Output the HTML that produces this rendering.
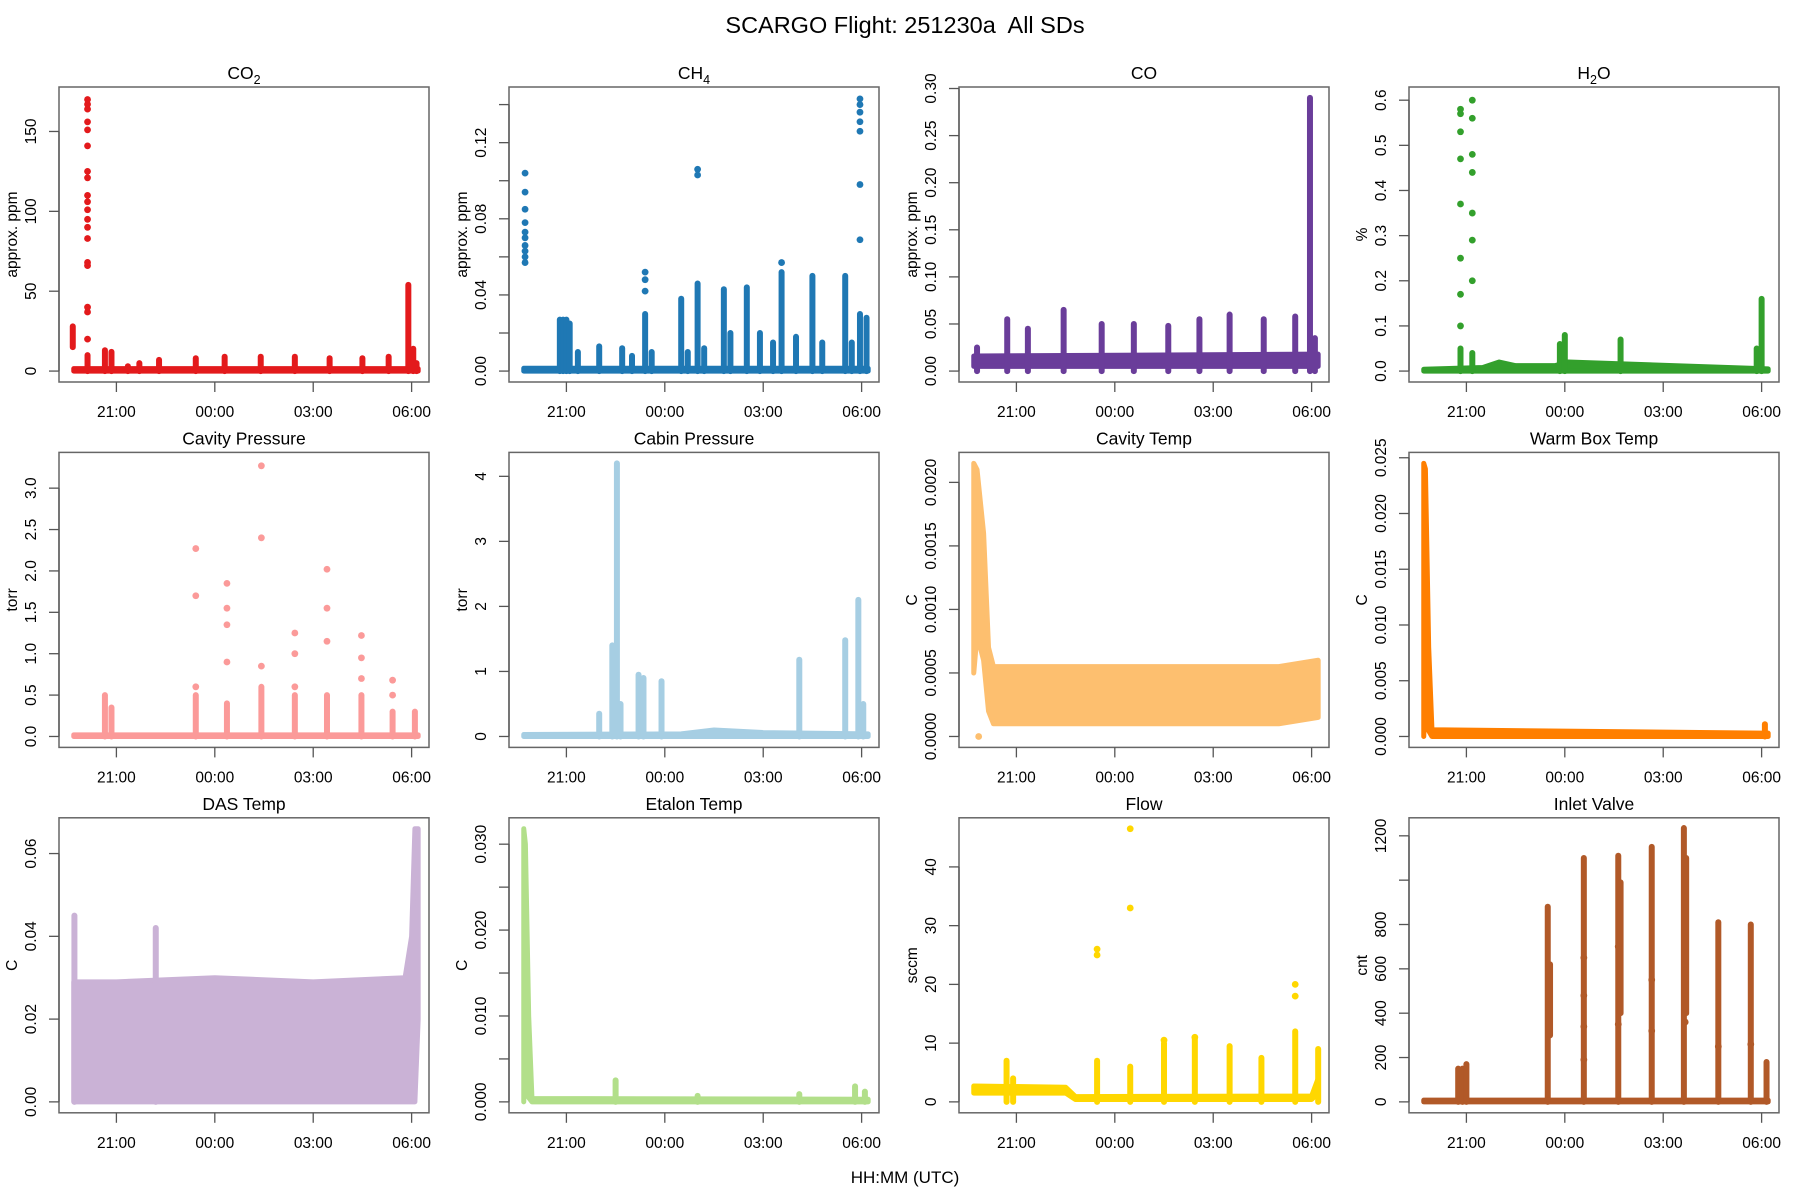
<!DOCTYPE html>
<html><head><meta charset="utf-8"><title>SCARGO Flight 251230a All SDs</title>
<style>
html,body{margin:0;padding:0;background:#fff;}
svg{display:block;font-family:"Liberation Sans",Arial,sans-serif;}
</style></head>
<body>
<svg id="fig" width="1800" height="1200" viewBox="0 0 1800 1200" xmlns="http://www.w3.org/2000/svg">
<rect width="1800" height="1200" fill="#fff"/>
<text x="905" y="33" font-size="23.5" text-anchor="middle" style="white-space:pre">SCARGO Flight: 251230a  All SDs</text>
<text x="905" y="1183" font-size="17" text-anchor="middle">HH:MM (UTC)</text>
</svg>
<script>
// shared x axis (hours relative to 21:00)
const xTickT = [0, 3, 6, 9];
const xTickLab = ['21:00', '00:00', '03:00', '06:00'];

// CO2
const co2BandT = [-1.3, 9.2];
const co2BandLo = [0, 0];
const co2BandHi = [1.5, 1.5];
const co2SpikeT = [-1.33, -0.88, -0.35, -0.15, 0.35, 0.7, 1.3, 2.42, 3.3, 4.4, 5.44, 6.5, 7.5, 8.3, 8.9, 9.05, 9.15];
const co2SpikeLo = [15, 0, 0, 0, 0, 0, 0, 0, 0, 0, 0, 0, 0, 0, 0, 0, 0];
const co2SpikeHi = [28, 10, 13, 12, 3, 5, 7, 8, 9, 9, 9, 8, 8, 9, 54, 14, 5];
const co2DotT = [-0.88, -0.88, -0.88, -0.88, -0.88, -0.88, -0.88, -0.88, -0.88, -0.88, -0.88, -0.88, -0.88, -0.88, -0.88, -0.88, -0.88, -0.88, -0.88];
const co2DotV = [170, 167, 164, 156, 151, 141, 125, 121, 110, 106, 101, 95, 90, 83, 68, 66, 40, 37, 20];
const co2Ticks = [0, 50, 100, 150];
const co2Labels = ['0', '50', '100', '150'];

// CH4
const ch4BandT = [-1.3, 9.2];
const ch4BandLo = [0, 0];
const ch4BandHi = [0.0015, 0.0015];
const ch4SpikeT = [-0.2, -0.1, 0, 0.1, 0.35, 1.0, 1.7, 2.0, 2.4, 2.6, 3.5, 3.7, 4.0, 4.2, 4.8, 5.0, 5.5, 5.9, 6.3, 6.56, 7.0, 7.5, 7.8, 8.5, 8.7, 8.95, 9.15];
const ch4SpikeLo = [0, 0, 0, 0, 0, 0, 0, 0, 0, 0, 0, 0, 0, 0, 0, 0, 0, 0, 0, 0, 0, 0, 0, 0, 0, 0, 0];
const ch4SpikeHi = [0.027, 0.027, 0.027, 0.025, 0.01, 0.013, 0.012, 0.008, 0.03, 0.01, 0.038, 0.01, 0.046, 0.012, 0.043, 0.02, 0.044, 0.02, 0.015, 0.052, 0.018, 0.05, 0.015, 0.05, 0.015, 0.03, 0.028];
const ch4DotT = [-1.26, -1.26, -1.26, -1.26, -1.26, -1.26, -1.26, -1.26, -1.26, -1.26, 2.4, 2.4, 2.4, 4.0, 4.0, 6.56, 8.95, 8.95, 8.95, 8.95, 8.95, 8.95, 8.95];
const ch4DotV = [0.057, 0.06, 0.063, 0.066, 0.07, 0.073, 0.078, 0.085, 0.094, 0.104, 0.042, 0.048, 0.052, 0.103, 0.106, 0.057, 0.126, 0.131, 0.136, 0.14, 0.143, 0.098, 0.069];
const ch4Ticks = [0, 0.02, 0.04, 0.06, 0.08, 0.10, 0.12, 0.14];
const ch4Labels = ['0.00', '', '0.04', '', '0.08', '', '0.12', ''];

// CO
const coBandT = [-1.3, 9.2];
const coBandLo = [0.005, 0.005];
const coBandHi = [0.016, 0.018];
const coSpikeT = [-1.2, -0.28, 0.35, 1.44, 2.6, 3.58, 4.63, 5.58, 6.5, 7.54, 8.5, 8.95, 9.1];
const coSpikeLo = [0, 0, 0, 0, 0, 0, 0, 0, 0, 0, 0, 0, 0];
const coSpikeHi = [0.025, 0.055, 0.045, 0.065, 0.05, 0.05, 0.048, 0.055, 0.06, 0.055, 0.058, 0.29, 0.035];
const coDotT = [];
const coDotV = [];
const coTicks = [0, 0.05, 0.10, 0.15, 0.20, 0.25, 0.30];
const coLabels = ['0.00', '0.05', '0.10', '0.15', '0.20', '0.25', '0.30'];

// H2O
const h2oBandT = [-1.3, 0.5, 1.0, 1.5, 2.7, 3.1, 9.2];
const h2oBandLo = [0, 0, 0, 0, 0, 0, 0];
const h2oBandHi = [0.004, 0.008, 0.02, 0.012, 0.012, 0.02, 0.005];
const h2oSpikeT = [-0.18, 0.18, 2.85, 3.0, 4.7, 8.85, 9.0];
const h2oSpikeLo = [0, 0, 0, 0, 0, 0, 0];
const h2oSpikeHi = [0.05, 0.04, 0.06, 0.08, 0.07, 0.05, 0.16];
const h2oDotT = [-0.18, -0.18, -0.18, -0.18, -0.18, -0.18, -0.18, -0.18, 0.18, 0.18, 0.18, 0.18, 0.18, 0.18, 0.18];
const h2oDotV = [0.1, 0.17, 0.25, 0.37, 0.47, 0.53, 0.57, 0.58, 0.6, 0.56, 0.48, 0.44, 0.35, 0.29, 0.2];
const h2oTicks = [0, 0.1, 0.2, 0.3, 0.4, 0.5, 0.6];
const h2oLabels = ['0.0', '0.1', '0.2', '0.3', '0.4', '0.5', '0.6'];

// Cavity Pressure
const cpBandT = [-1.3, 9.2];
const cpBandLo = [0, 0];
const cpBandHi = [0.02, 0.02];
const cpSpikeT = [-0.35, -0.15, 2.42, 3.37, 4.42, 5.44, 6.42, 7.47, 8.42, 9.1];
const cpSpikeLo = [0, 0, 0, 0, 0, 0, 0, 0, 0, 0];
const cpSpikeHi = [0.5, 0.35, 0.5, 0.4, 0.6, 0.5, 0.5, 0.5, 0.3, 0.3];
const cpDotT = [2.42, 2.42, 2.42, 3.37, 3.37, 3.37, 3.37, 4.42, 4.42, 4.42, 5.44, 5.44, 5.44, 6.42, 6.42, 6.42, 7.47, 7.47, 7.47, 8.42, 8.42];
const cpDotV = [2.27, 1.7, 0.6, 1.85, 1.55, 1.35, 0.9, 3.27, 2.4, 0.85, 1.25, 1.0, 0.6, 2.02, 1.55, 1.15, 1.22, 0.95, 0.7, 0.68, 0.5];
const cpTicks = [0, 0.5, 1.0, 1.5, 2.0, 2.5, 3.0];
const cpLabels = ['0.0', '0.5', '1.0', '1.5', '2.0', '2.5', '3.0'];

// Cabin Pressure
const cabBandT = [-1.3, 3.5, 4.5, 6.0, 9.2];
const cabBandLo = [0, 0, 0, 0, 0];
const cabBandHi = [0.03, 0.04, 0.1, 0.06, 0.04];
const cabSpikeT = [1.0, 1.4, 1.54, 1.65, 2.2, 2.35, 2.9, 7.1, 8.5, 8.9, 9.05];
const cabSpikeLo = [0, 0, 0, 0, 0, 0, 0, 0, 0, 0, 0];
const cabSpikeHi = [0.35, 1.4, 4.2, 0.5, 0.95, 0.9, 0.85, 1.18, 1.48, 2.1, 0.5];
const cabDotT = [];
const cabDotV = [];
const cabTicks = [0, 1, 2, 3, 4];
const cabLabels = ['0', '1', '2', '3', '4'];

// Cavity Temp
const ctBandT = [-1.3, -1.2, -1.0, -0.85, -0.7, 0.5, 2.0, 4.0, 6.0, 8.0, 9.2];
const ctBandLo = [0.0005, 0.0008, 0.0006, 0.0002, 0.0001, 0.0001, 0.0001, 0.0001, 0.0001, 0.0001, 0.00015];
const ctBandHi = [0.00215, 0.0021, 0.0016, 0.0007, 0.00055, 0.00055, 0.00055, 0.00055, 0.00055, 0.00055, 0.0006];
const ctSpikeT = [];
const ctSpikeLo = [];
const ctSpikeHi = [];
const ctDotT = [-1.15];
const ctDotV = [0.0];
const ctTicks = [0, 0.0005, 0.0010, 0.0015, 0.0020];
const ctLabels = ['0.0000', '0.0005', '0.0010', '0.0015', '0.0020'];

// Warm Box Temp
const wbBandT = [-1.3, -1.25, -1.15, -1.05, 9.0, 9.2];
const wbBandLo = [0.0, 0.005, 0.0005, 0.0, 0.0, 0.0];
const wbBandHi = [0.0245, 0.024, 0.008, 0.0006, 0.0003, 0.0003];
const wbSpikeT = [9.1];
const wbSpikeLo = [0];
const wbSpikeHi = [0.0011];
const wbDotT = [];
const wbDotV = [];
const wbTicks = [0, 0.005, 0.010, 0.015, 0.020, 0.025];
const wbLabels = ['0.000', '0.005', '0.010', '0.015', '0.020', '0.025'];

// DAS Temp
const dasBandT = [-1.3, 0.0, 3.0, 6.0, 8.8, 9.0, 9.1, 9.2];
const dasBandLo = [0, 0, 0, 0, 0, 0, 0, 0.02];
const dasBandHi = [0.029, 0.029, 0.03, 0.029, 0.03, 0.04, 0.066, 0.066];
const dasSpikeT = [-1.28, 1.2];
const dasSpikeLo = [0, 0];
const dasSpikeHi = [0.045, 0.042];
const dasDotT = [];
const dasDotV = [];
const dasTicks = [0, 0.02, 0.04, 0.06];
const dasLabels = ['0.00', '0.02', '0.04', '0.06'];

// Etalon Temp
const etBandT = [-1.3, -1.25, -1.15, -1.05, 9.2];
const etBandLo = [0.0, 0.008, 0.0005, 0.0, 0.0];
const etBandHi = [0.0318, 0.03, 0.01, 0.0004, 0.0003];
const etSpikeT = [1.5, 4.0, 7.1, 8.8, 9.1];
const etSpikeLo = [0, 0, 0, 0, 0];
const etSpikeHi = [0.0025, 0.0007, 0.0009, 0.0018, 0.0012];
const etDotT = [];
const etDotV = [];
const etTicks = [0, 0.005, 0.010, 0.015, 0.020, 0.025, 0.030];
const etLabels = ['0.000', '', '0.010', '', '0.020', '', '0.030'];

// Flow
const flBandT = [-1.3, 1.5, 1.8, 9.0, 9.2];
const flBandLo = [1.5, 1.5, 0.4, 0.4, 1.5];
const flBandHi = [2.7, 2.5, 0.9, 1.0, 4.0];
const flSpikeT = [-0.3, -0.1, 2.46, 3.47, 4.5, 5.44, 6.5, 7.47, 8.5, 9.2];
const flSpikeLo = [0, 0, 0, 0, 0, 0, 0, 0, 0, 0];
const flSpikeHi = [7, 4, 7, 6, 10, 11, 9.5, 7.5, 12, 9];
const flDotT = [2.46, 2.46, 3.47, 3.47, 4.5, 5.44, 8.5, 8.5];
const flDotV = [26, 25, 46.5, 33, 10.5, 11, 20, 18];
const flTicks = [0, 10, 20, 30, 40];
const flLabels = ['0', '10', '20', '30', '40'];

// Inlet Valve
const ivBandT = [-1.3, 9.2];
const ivBandLo = [0, 0];
const ivBandHi = [8, 8];
const ivSpikeT = [-0.25, -0.12, 0.0, 2.48, 2.55, 3.58, 4.63, 4.7, 5.65, 6.63, 6.7, 7.68, 8.67, 9.15];
const ivSpikeLo = [0, 0, 0, 0, 300, 0, 0, 400, 0, 0, 400, 0, 0, 0];
const ivSpikeHi = [150, 150, 170, 880, 620, 1100, 1110, 990, 1150, 1235, 1100, 810, 800, 180];
const ivDotT = [3.58, 3.58, 3.58, 3.58, 4.63, 4.63, 5.65, 5.65, 6.67, 6.67, 7.68, 8.67];
const ivDotV = [650, 480, 340, 190, 700, 350, 550, 320, 620, 360, 250, 260];
const ivTicks = [0, 200, 400, 600, 800, 1000, 1200];
const ivLabels = ['0', '200', '400', '600', '800', '', '1200'];

const panels = [
  {name:'co2', title:'CO', sub:'2', ylab:'approx. ppm', color:'#E31A1C', ymin:0, ymax:171, bT:co2BandT,bL:co2BandLo,bH:co2BandHi,sT:co2SpikeT,sL:co2SpikeLo,sH:co2SpikeHi,dT:co2DotT,dV:co2DotV,tk:co2Ticks,tl:co2Labels},
  {name:'ch4', title:'CH', sub:'4', ylab:'approx. ppm', color:'#1F78B4', ymin:0, ymax:0.1435, bT:ch4BandT,bL:ch4BandLo,bH:ch4BandHi,sT:ch4SpikeT,sL:ch4SpikeLo,sH:ch4SpikeHi,dT:ch4DotT,dV:ch4DotV,tk:ch4Ticks,tl:ch4Labels},
  {name:'co', title:'CO', ylab:'approx. ppm', color:'#6A3D9A', ymin:0, ymax:0.29, bT:coBandT,bL:coBandLo,bH:coBandHi,sT:coSpikeT,sL:coSpikeLo,sH:coSpikeHi,dT:coDotT,dV:coDotV,tk:coTicks,tl:coLabels},
  {name:'h2o', title:'H', sub:'2', after:'O', ylab:'%', color:'#33A02C', ymin:0, ymax:0.605, bT:h2oBandT,bL:h2oBandLo,bH:h2oBandHi,sT:h2oSpikeT,sL:h2oSpikeLo,sH:h2oSpikeHi,dT:h2oDotT,dV:h2oDotV,tk:h2oTicks,tl:h2oLabels},
  {name:'cavity-pressure', title:'Cavity Pressure', ylab:'torr', color:'#FB9A99', ymin:0, ymax:3.3, bT:cpBandT,bL:cpBandLo,bH:cpBandHi,sT:cpSpikeT,sL:cpSpikeLo,sH:cpSpikeHi,dT:cpDotT,dV:cpDotV,tk:cpTicks,tl:cpLabels},
  {name:'cabin-pressure', title:'Cabin Pressure', ylab:'torr', color:'#A6CEE3', ymin:0, ymax:4.2, bT:cabBandT,bL:cabBandLo,bH:cabBandHi,sT:cabSpikeT,sL:cabSpikeLo,sH:cabSpikeHi,dT:cabDotT,dV:cabDotV,tk:cabTicks,tl:cabLabels},
  {name:'cavity-temp', title:'Cavity Temp', ylab:'C', color:'#FDBF6F', ymin:0, ymax:0.00215, bT:ctBandT,bL:ctBandLo,bH:ctBandHi,sT:ctSpikeT,sL:ctSpikeLo,sH:ctSpikeHi,dT:ctDotT,dV:ctDotV,tk:ctTicks,tl:ctLabels},
  {name:'warm-box-temp', title:'Warm Box Temp', ylab:'C', color:'#FF7F00', ymin:0, ymax:0.0245, bT:wbBandT,bL:wbBandLo,bH:wbBandHi,sT:wbSpikeT,sL:wbSpikeLo,sH:wbSpikeHi,dT:wbDotT,dV:wbDotV,tk:wbTicks,tl:wbLabels},
  {name:'das-temp', title:'DAS Temp', ylab:'C', color:'#CAB2D6', ymin:0, ymax:0.066, bT:dasBandT,bL:dasBandLo,bH:dasBandHi,sT:dasSpikeT,sL:dasSpikeLo,sH:dasSpikeHi,dT:dasDotT,dV:dasDotV,tk:dasTicks,tl:dasLabels},
  {name:'etalon-temp', title:'Etalon Temp', ylab:'C', color:'#B2DF8A', ymin:0, ymax:0.0318, bT:etBandT,bL:etBandLo,bH:etBandHi,sT:etSpikeT,sL:etSpikeLo,sH:etSpikeHi,dT:etDotT,dV:etDotV,tk:etTicks,tl:etLabels},
  {name:'flow', title:'Flow', ylab:'sccm', color:'#FFD700', ymin:0, ymax:46.5, bT:flBandT,bL:flBandLo,bH:flBandHi,sT:flSpikeT,sL:flSpikeLo,sH:flSpikeHi,dT:flDotT,dV:flDotV,tk:flTicks,tl:flLabels},
  {name:'inlet-valve', title:'Inlet Valve', ylab:'cnt', color:'#B15928', ymin:0, ymax:1232, bT:ivBandT,bL:ivBandLo,bH:ivBandHi,sT:ivSpikeT,sL:ivSpikeLo,sH:ivSpikeHi,dT:ivDotT,dV:ivDotV,tk:ivTicks,tl:ivLabels}
];

const NS = 'http://www.w3.org/2000/svg';
const svg = document.getElementById('fig');
function mk(tag, attrs, parent){
  const e = document.createElementNS(NS, tag);
  for (const k in attrs) e.setAttribute(k, attrs[k]);
  parent.appendChild(e);
  return e;
}
const TMIN = -1.75, TMAX = 9.53, PW = 370, PH = 295;

panels.forEach((p, i) => {
  const c = i % 4, r = Math.floor(i / 4);
  const L = 59 + 450 * c, T = 87 + 365.4 * r, B = T + PH;
  const pad = 0.04 * (p.ymax - p.ymin);
  const y0 = p.ymin - pad, y1 = p.ymax + pad;
  const xs = t => L + (t - TMIN) / (TMAX - TMIN) * PW;
  const ys = v => B - (v - y0) / (y1 - y0) * PH;

  const g = mk('g', {}, svg);
  
  

  const clipId = 'clip' + i;
  const cp = mk('clipPath', {id: clipId}, g);
  mk('rect', {x: L, y: T, width: PW, height: PH}, cp);
  const marks = mk('g', {'clip-path': 'url(#' + clipId + ')'}, g);
  
  

  if (p.bT.length) {
    let pts = [];
    for (let k = 0; k < p.bT.length; k++) pts.push(xs(p.bT[k]) + ',' + ys(p.bH[k]));
    for (let k = p.bT.length - 1; k >= 0; k--) pts.push(xs(p.bT[k]) + ',' + ys(p.bL[k]));
    const band = mk('polygon', {points: pts.join(' '), fill: p.color, stroke: p.color, 'stroke-width': 5, 'stroke-linejoin': 'round'}, marks);
    
    
  }
  for (let k = 0; k < p.sT.length; k++) {
    const ln = mk('line', {x1: xs(p.sT[k]), x2: xs(p.sT[k]), y1: ys(p.sL[k]), y2: ys(p.sH[k]), stroke: p.color, 'stroke-width': 6, 'stroke-linecap': 'round'}, marks);
    
    
  }
  for (let k = 0; k < p.dT.length; k++) {
    const d = mk('circle', {cx: xs(p.dT[k]), cy: ys(p.dV[k]), r: 3.4, fill: p.color}, marks);
    
    
  }

  const box = mk('rect', {x: L, y: T, width: PW, height: PH, fill: 'none', stroke: '#666', 'stroke-width': 1.5}, g);
  
  

  const xa = mk('g', {}, g);
  
  
  xTickT.forEach((t, k) => {
    mk('line', {x1: xs(t), x2: xs(t), y1: B, y2: B + 10, stroke: '#555', 'stroke-width': 1.3}, xa);
    const tx = mk('text', {x: xs(t), y: B + 35, 'font-size': 15.5, 'text-anchor': 'middle', fill: '#000'}, xa);
    tx.textContent = xTickLab[k];
    
    
  });

  const ya = mk('g', {}, g);
  
  
  mk('line', {x1: L, x2: L, y1: ys(p.tk[0]), y2: ys(p.tk[p.tk.length - 1]), stroke: '#555', 'stroke-width': 1.3}, ya);
  p.tk.forEach((v, k) => {
    const yy = ys(v);
    mk('line', {x1: L - 10, x2: L, y1: yy, y2: yy, stroke: '#555', 'stroke-width': 1.3}, ya);
    if (p.tl[k]) {
      const tx = mk('text', {x: L - 23, y: yy, 'font-size': 15.5, 'text-anchor': 'middle', transform: 'rotate(-90 ' + (L - 23) + ' ' + yy + ')'}, ya);
      tx.textContent = p.tl[k];
      
      
    }
  });
  const yl = mk('text', {x: L - 42, y: T + PH / 2, 'font-size': 15.5, 'text-anchor': 'middle', transform: 'rotate(-90 ' + (L - 42) + ' ' + (T + PH / 2) + ')'}, g);
  yl.textContent = p.ylab;
  
  

  const tt = mk('text', {x: L + PW / 2, y: T - 8, 'font-size': 17.5, 'text-anchor': 'middle'}, g);
  
  
  tt.textContent = p.title;
  if (p.sub) {
    const s = mk('tspan', {'font-size': 12.5, dy: 5}, tt);
    s.textContent = p.sub;
    if (p.after) {
      const a = mk('tspan', {'font-size': 17.5, dy: -5}, tt);
      a.textContent = p.after;
    }
  }
});
</script>
</body></html>
